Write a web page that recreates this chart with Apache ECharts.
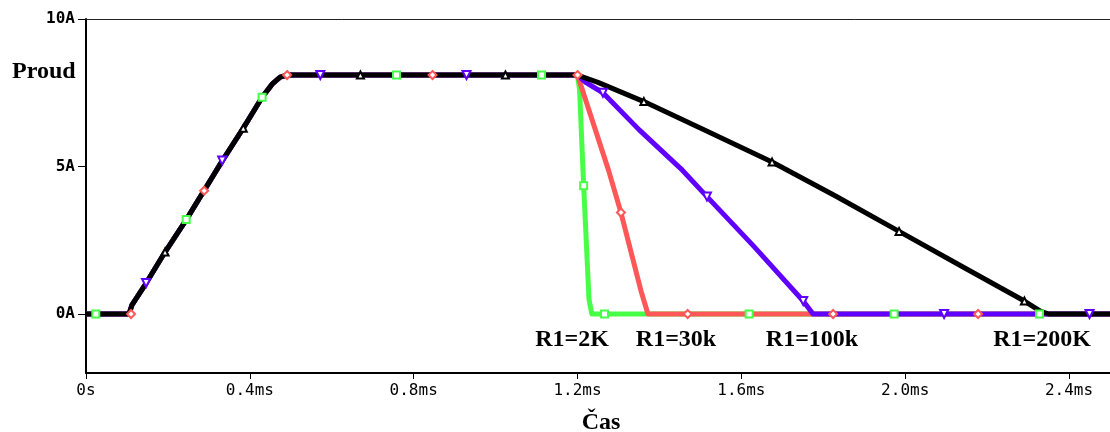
<!DOCTYPE html>
<html>
<head>
<meta charset="utf-8">
<script src="https://cdn.jsdelivr.net/npm/echarts@6/dist/echarts.min.js"></script>
<style>
  html, body { margin: 0; padding: 0; background: #fff; }
  #chart { width: 1110px; height: 432px; }
</style>
</head>
<body>
<div id="chart"></div>
<script>
// Time axis in ms, current in A
const xTicks = [0, 0.4, 0.8, 1.2, 1.6, 2.0, 2.4];
const xTickLabels = ['0s', '0.4ms', '0.8ms', '1.2ms', '1.6ms', '2.0ms', '2.4ms'];
const yTicks = [0, 5, 10];
const yTickLabels = ['0A', '5A', '10A'];

// Shared start: idle, ramp up, plateau until switch-off at 1.2 ms
const rise = [[0, 0], [0.105, 0], [0.112, 0.3], [0.147, 1.05], [0.193, 2.1], [0.245, 3.2],
  [0.289, 4.2], [0.333, 5.2], [0.384, 6.3], [0.43, 7.35], [0.455, 7.8], [0.474, 8.03],
  [0.491, 8.1], [1.2, 8.1]];

// Decay after switch-off for each R1
const fall2k = [[1.205, 7.6], [1.215, 4.35], [1.228, 0.5], [1.235, 0], [2.5, 0]];
const fall30k = [[1.276, 4.86], [1.306, 3.44], [1.355, 0.78], [1.372, 0], [2.5, 0]];
const fall100k = [[1.22, 7.85], [1.262, 7.5], [1.35, 6.25], [1.452, 4.93], [1.516, 3.98],
  [1.63, 2.3], [1.751, 0.44], [1.775, 0], [2.5, 0]];
const fall200k = [[1.25, 7.85], [1.362, 7.2], [1.501, 6.3], [1.675, 5.15], [1.83, 4.0],
  [1.985, 2.8], [2.14, 1.6], [2.291, 0.44], [2.33, 0.1], [2.35, 0], [2.5, 0]];

// Trace markers placed along each curve
const marks2k = [[0.024, 0], [0.2445, 3.2], [0.43, 7.35], [0.758, 8.1], [1.112, 8.1],
  [1.215, 4.35], [1.266, 0], [1.619, 0], [1.973, 0], [2.328, 0]];
const marks30k = [[0.11, 0], [0.2885, 4.18], [0.491, 8.1], [0.846, 8.1], [1.2, 8.1],
  [1.306, 3.44], [1.469, 0], [1.824, 0], [2.178, 0]];
const marks100k = [[0.1467, 1.05], [0.3325, 5.2], [0.572, 8.1], [0.929, 8.1], [1.262, 7.5],
  [1.516, 3.98], [1.751, 0.44], [2.095, 0], [2.45, 0]];
const marks200k = [[0.193, 2.1], [0.384, 6.3], [0.67, 8.1], [1.024, 8.1], [1.362, 7.2],
  [1.675, 5.15], [1.985, 2.8], [2.291, 0.44]];

const traceLabels = [
  { text: 'R1=2K', x: 572, y: 340 },
  { text: 'R1=30k', x: 676, y: 340 },
  { text: 'R1=100k', x: 812, y: 340 },
  { text: 'R1=200K', x: 1042, y: 340 }
];

const GREEN = '#47ff47';
const RED = '#ff5757';
const BLUE = '#6000ff';
const BLACK = '#000000';

const chart = echarts.init(document.getElementById('chart'), null, { renderer: 'canvas' });

function lineSeries(data, color) {
  return {
    type: 'line', data: data, showSymbol: false, symbol: 'none',
    lineStyle: { color: color, width: 5, cap: 'butt', join: 'round' },
    animation: false, z: 2
  };
}
function markSeries(data, color, symbol, rotate, size) {
  return {
    type: 'scatter', data: data, symbol: symbol, symbolRotate: rotate || 0,
    symbolSize: size,
    itemStyle: { color: '#ffffff', borderColor: color, borderWidth: 2, opacity: 1 },
    animation: false, z: 5, silent: true
  };
}

const serif = 'bold 24px "Liberation Serif", "Times New Roman", serif';
const mono = '"DejaVu Sans Mono", monospace';

chart.setOption({
  backgroundColor: '#ffffff',
  animation: false,
  grid: { left: 86, top: 19, right: 0, bottom: 59, containLabel: false },
  xAxis: [{
    type: 'value', min: 0, max: 2.5, position: 'bottom',
    axisLine: { show: true, onZero: false, lineStyle: { color: '#000', width: 2 } },
    axisTick: { show: true, customValues: xTicks, length: 6, lineStyle: { color: '#000', width: 1 } },
    axisLabel: {
      customValues: xTicks, margin: 10,
      fontFamily: mono, fontSize: 16, color: '#000',
      formatter: v => xTickLabels[xTicks.findIndex(t => Math.abs(t - v) < 1e-9)]
    },
    splitLine: { show: false }
  }, {
    type: 'value', min: 0, max: 2.5, position: 'top',
    axisLine: { show: true, onZero: false, lineStyle: { color: '#222', width: 1 } },
    axisTick: { show: false }, axisLabel: { show: false }, splitLine: { show: false }
  }],
  yAxis: {
    type: 'value', min: -2, max: 10,
    axisLine: { show: true, onZero: false, lineStyle: { color: '#000', width: 2 } },
    axisTick: { show: true, customValues: yTicks, length: 8, lineStyle: { color: '#000', width: 1 } },
    axisLabel: {
      customValues: yTicks, margin: 11,
      fontFamily: mono, fontSize: 16, fontWeight: 'bold', color: '#000',
      formatter: v => yTickLabels[yTicks.indexOf(v)]
    },
    splitLine: { show: false }
  },
  series: [
    lineSeries(rise.concat(fall2k), GREEN),
    lineSeries(rise.concat(fall30k), RED),
    lineSeries(rise.concat(fall100k), BLUE),
    lineSeries(rise.concat(fall200k), BLACK),
    markSeries(marks2k, GREEN, 'rect', 0, 7),
    markSeries(marks30k, RED, 'diamond', 0, 8),
    markSeries(marks100k, BLUE, 'triangle', 180, 8),
    markSeries(marks200k, BLACK, 'triangle', 0, 7)
  ],
  graphic: [
    { type: 'text', left: 12, top: 60, style: { text: 'Proud', font: serif, fill: '#000' } },
    { type: 'text', x: 601, y: 423, style: { text: 'Čas', font: serif, fill: '#000', align: 'center', verticalAlign: 'middle' } }
  ].concat(traceLabels.map(l => ({
    type: 'text', x: l.x, y: l.y,
    style: { text: l.text, font: serif, fill: '#000', align: 'center', verticalAlign: 'middle' }
  })))
});
</script>
</body>
</html>
